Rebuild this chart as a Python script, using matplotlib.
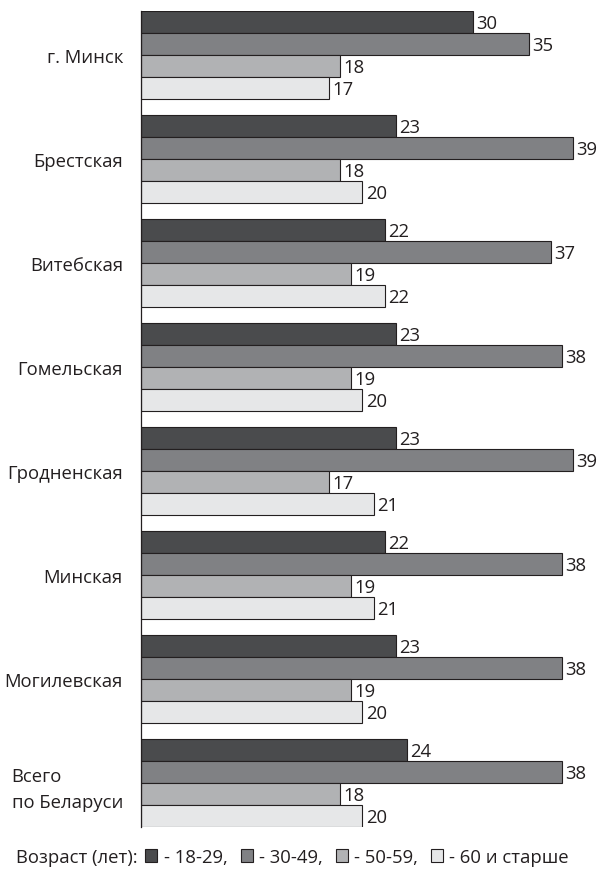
import numpy as np
import matplotlib
matplotlib.use('Agg')
import matplotlib.pyplot as plt
from matplotlib.patches import Patch

plt.rcParams['font.family'] = ['Open Sans', 'DejaVu Sans']

# data
regions = ['г. Минск', 'Брестская', 'Витебская', 'Гомельская', 'Гродненская',
           'Минская', 'Могилевская', 'Всего\nпо Беларуси']
age_groups = ['- 18-29,', '- 30-49,', '- 50-59,', '- 60 и старше']
v_18_29 = [30, 23, 22, 23, 23, 22, 23, 24]
v_30_49 = [35, 39, 37, 38, 39, 38, 38, 38]
v_50_59 = [18, 18, 19, 19, 17, 19, 19, 18]
v_60 = [17, 20, 22, 20, 21, 21, 20, 20]
series = [v_18_29, v_30_49, v_50_59, v_60]
colors = ['#4a4b4d', '#808184', '#b1b2b4', '#e6e7e8']

fs = 13.3

fig = plt.figure(figsize=(5.99, 8.70), dpi=100)
ax = fig.add_axes([141 / 599, 42 / 870, 454 / 599, 816 / 870])

bar_h = 22
step = 104
base = np.arange(len(regions)) * step

for k, (vals, c) in enumerate(zip(series, colors)):
    y = base + k * bar_h
    ax.barh(y, vals, height=bar_h, align='edge', color=c,
            edgecolor='#231f20', linewidth=0.8)
    for yi, v in zip(y, vals):
        ax.text(v + 0.3, yi + bar_h / 2 + 1, str(v), va='center', ha='left',
                fontsize=fs, color='#231f20', clip_on=False)

ax.set_xlim(0, 41)
ax.set_ylim(816, 0)
ax.set_yticks(base + 2 * bar_h)
ax.set_yticklabels(regions, fontsize=fs, color='#231f20', multialignment='left',
                   linespacing=1.55)
ax.tick_params(axis='y', length=0, pad=13)
ax.set_xticks([])
for s in ['top', 'right', 'bottom']:
    ax.spines[s].set_visible(False)
ax.spines['left'].set_color('#231f20')
ax.spines['left'].set_linewidth(0.9)

# legend at the bottom
fig.text(16 / 599, 1 - 858 / 870, 'Возраст (лет):', fontsize=fs,
         color='#231f20', va='center', ha='left')
handles = [Patch(facecolor=c, edgecolor='#231f20', linewidth=0.8) for c in colors]
fig.legend(handles, age_groups, loc='center left',
           bbox_to_anchor=(138 / 599, 1 - 858 / 870), ncol=4, frameon=False,
           fontsize=fs, handlelength=0.65, handleheight=0.65,
           handletextpad=0.35, columnspacing=0.7, borderaxespad=0,
           labelcolor='#231f20')

fig.savefig('out.png', dpi=100)
